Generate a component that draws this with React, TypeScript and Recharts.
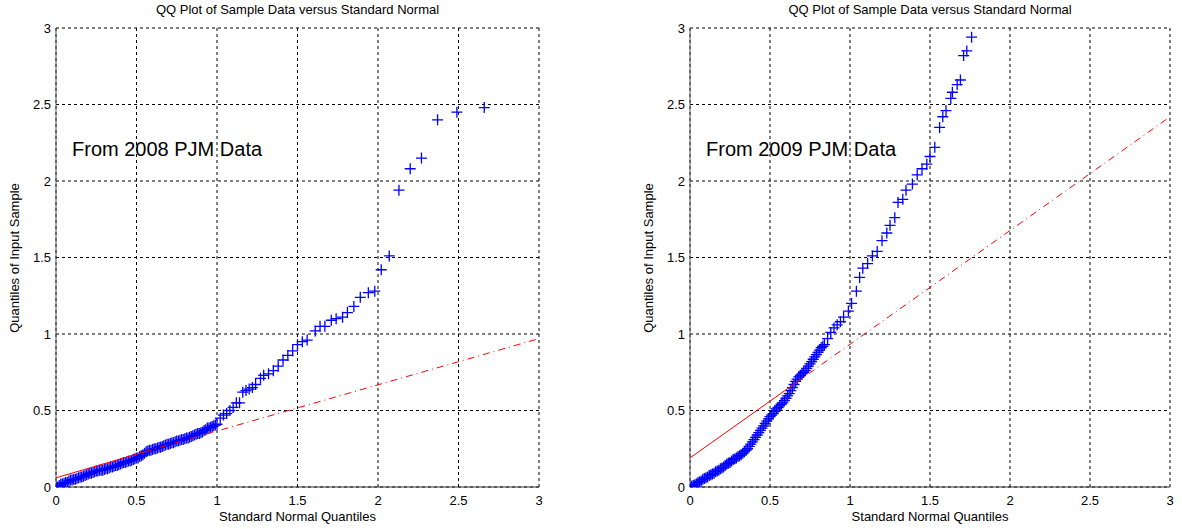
import React from "react";
import { ScatterChart, Scatter, XAxis, YAxis, CartesianGrid } from "recharts";

const TITLE = "QQ Plot of Sample Data versus Standard Normal";
const X_LABEL = "Standard Normal Quantiles";
const Y_LABEL = "Quantiles of Input Sample";

const TICKS = [0, 0.5, 1, 1.5, 2, 2.5, 3];

// [standard normal quantile, sample quantile]
const sample2008: [number, number][] = [
  [0.0, 0.0], [0.02, 0.01], [0.04, 0.02], [0.06, 0.03], [0.08, 0.04], [0.1, 0.045],
  [0.12, 0.05], [0.14, 0.06], [0.16, 0.065], [0.18, 0.075], [0.2, 0.085], [0.22, 0.09],
  [0.24, 0.1], [0.26, 0.105], [0.28, 0.11], [0.3, 0.115], [0.32, 0.12], [0.34, 0.13],
  [0.36, 0.135], [0.38, 0.14], [0.4, 0.15], [0.42, 0.16], [0.44, 0.165], [0.46, 0.17],
  [0.48, 0.18], [0.5, 0.19], [0.52, 0.2], [0.54, 0.21], [0.56, 0.23], [0.58, 0.24],
  [0.6, 0.245], [0.62, 0.25], [0.64, 0.26], [0.66, 0.265], [0.68, 0.275], [0.7, 0.28],
  [0.72, 0.29], [0.74, 0.295], [0.76, 0.3], [0.78, 0.31], [0.8, 0.315], [0.82, 0.32],
  [0.84, 0.33], [0.86, 0.34], [0.88, 0.35], [0.9, 0.355], [0.92, 0.37], [0.94, 0.385],
  [0.96, 0.39], [0.98, 0.4], [1.0, 0.41], [1.02, 0.45], [1.04, 0.47], [1.06, 0.48],
  [1.08, 0.5], [1.1, 0.52], [1.12, 0.55], [1.14, 0.55], [1.16, 0.62], [1.18, 0.63],
  [1.2, 0.64], [1.22, 0.65], [1.24, 0.67], [1.27, 0.71], [1.29, 0.73], [1.32, 0.74],
  [1.35, 0.76], [1.38, 0.79], [1.41, 0.83], [1.44, 0.86], [1.47, 0.89], [1.5, 0.93],
  [1.53, 0.95], [1.56, 0.96], [1.61, 1.02], [1.64, 1.05], [1.67, 1.05], [1.71, 1.09],
  [1.74, 1.1], [1.78, 1.11], [1.81, 1.14], [1.85, 1.18], [1.89, 1.24], [1.94, 1.27],
  [1.98, 1.28], [2.02, 1.42], [2.07, 1.51], [2.13, 1.94], [2.2, 2.08], [2.27, 2.15],
  [2.37, 2.4], [2.49, 2.45], [2.66, 2.48],
  // densely packed lower quantiles
  [0.01, 0.0], [0.03, 0.02], [0.05, 0.025], [0.07, 0.03], [0.09, 0.045], [0.11, 0.05],
  [0.13, 0.055], [0.15, 0.065], [0.17, 0.07], [0.19, 0.08], [0.21, 0.09], [0.23, 0.095],
  [0.25, 0.105], [0.27, 0.11], [0.29, 0.11], [0.31, 0.12], [0.33, 0.125], [0.35, 0.13],
  [0.37, 0.14], [0.39, 0.145], [0.41, 0.155], [0.43, 0.16], [0.45, 0.17], [0.47, 0.175],
  [0.49, 0.185], [0.51, 0.19], [0.53, 0.205], [0.55, 0.22], [0.57, 0.235], [0.59, 0.24],
  [0.61, 0.25], [0.63, 0.255], [0.65, 0.26], [0.67, 0.27], [0.69, 0.28], [0.71, 0.285],
  [0.73, 0.29], [0.75, 0.3], [0.77, 0.305], [0.79, 0.31], [0.81, 0.32], [0.83, 0.325],
  [0.85, 0.335], [0.87, 0.345], [0.89, 0.35], [0.91, 0.36], [0.93, 0.375], [0.95, 0.385],
  [0.97, 0.395], [0.99, 0.405],
];

// same for the 2009 panel
const sample2009: [number, number][] = [
  [0.0, 0.0], [0.02, 0.01], [0.04, 0.02], [0.06, 0.035], [0.08, 0.05], [0.1, 0.06],
  [0.12, 0.075], [0.14, 0.085], [0.16, 0.1], [0.18, 0.11], [0.2, 0.125], [0.22, 0.14],
  [0.24, 0.155], [0.26, 0.17], [0.28, 0.185], [0.3, 0.2], [0.32, 0.21], [0.34, 0.23],
  [0.36, 0.25], [0.38, 0.28], [0.4, 0.31], [0.42, 0.34], [0.44, 0.37], [0.46, 0.4],
  [0.48, 0.43], [0.5, 0.46], [0.52, 0.48], [0.54, 0.51], [0.56, 0.53], [0.58, 0.55],
  [0.6, 0.58], [0.62, 0.61], [0.64, 0.65], [0.66, 0.69], [0.68, 0.72], [0.7, 0.74],
  [0.72, 0.76], [0.74, 0.79], [0.76, 0.82], [0.78, 0.85], [0.8, 0.88], [0.82, 0.91],
  [0.84, 0.93], [0.86, 0.97], [0.88, 1.01], [0.9, 1.04], [0.92, 1.06], [0.94, 1.08],
  [0.96, 1.11], [0.99, 1.15], [1.01, 1.2], [1.04, 1.28], [1.06, 1.37], [1.08, 1.43],
  [1.11, 1.46], [1.14, 1.51], [1.17, 1.54], [1.2, 1.61], [1.23, 1.66], [1.25, 1.71],
  [1.28, 1.76], [1.3, 1.86], [1.33, 1.88], [1.35, 1.94], [1.39, 1.98], [1.42, 2.04],
  [1.45, 2.08], [1.48, 2.11], [1.5, 2.16], [1.53, 2.22], [1.56, 2.35], [1.58, 2.42],
  [1.6, 2.46], [1.63, 2.54], [1.64, 2.58], [1.67, 2.63], [1.69, 2.66], [1.71, 2.82],
  [1.73, 2.85], [1.76, 2.94],
  // densely packed lower quantiles
  [0.01, 0.005], [0.03, 0.015], [0.05, 0.03], [0.07, 0.04], [0.09, 0.055], [0.11, 0.065],
  [0.13, 0.08], [0.15, 0.09], [0.17, 0.105], [0.19, 0.12], [0.21, 0.13], [0.23, 0.15],
  [0.25, 0.16], [0.27, 0.18], [0.29, 0.19], [0.31, 0.205], [0.33, 0.22], [0.35, 0.24],
  [0.37, 0.265], [0.39, 0.295], [0.41, 0.325], [0.43, 0.355], [0.45, 0.385], [0.47, 0.415],
  [0.49, 0.445], [0.51, 0.47], [0.53, 0.495], [0.55, 0.52], [0.57, 0.54], [0.59, 0.565],
  [0.61, 0.595], [0.63, 0.63], [0.65, 0.67], [0.67, 0.705], [0.69, 0.73], [0.71, 0.75],
  [0.73, 0.775], [0.75, 0.805], [0.77, 0.835], [0.79, 0.865], [0.81, 0.895], [0.83, 0.92],
];

// reference lines: solid over the quartile range, dash-dot extension
const fit2008Solid: [number, number][] = [[0, 0.06], [0.55, 0.23]];
const fit2008Dash: [number, number][] = [[0.55, 0.23], [3, 0.97]];
const fit2009Solid: [number, number][] = [[0, 0.19], [0.66, 0.68]];
const fit2009Dash: [number, number][] = [[0.66, 0.68], [3, 2.42]];

const FONT = "'Liberation Sans', Arial, sans-serif";

const toXY = (arr: [number, number][]) => arr.map(([x, y]) => ({ x, y }));

function Plus(props: any) {
  const { cx, cy } = props;
  if (cx == null || cy == null) return null;
  return (
    <path
      d={`M${cx - 5.5},${cy}H${cx + 5.5}M${cx},${cy - 5.5}V${cy + 5.5}`}
      stroke="#0000ff"
      strokeWidth={1.3}
      fill="none"
    />
  );
}

const NoDot = () => <g />;

interface PanelProps {
  left: number;
  width: number;
  marginRight: number;
  points: [number, number][];
  fitSolid: [number, number][];
  fitDash: [number, number][];
  note: string;
}

function Panel({ left, width, marginRight, points, fitSolid, fitDash, note }: PanelProps) {
  const plotLeft = 56;
  const plotRight = width - marginRight;
  const center = (plotLeft + plotRight) / 2;
  return (
    <div style={{ position: "absolute", left, top: 0, width, height: 529 }}>
      <div
        style={{
          position: "absolute", left: center - 250, width: 500, top: 2, textAlign: "center",
          fontFamily: FONT, fontSize: 13, color: "#000",
        }}
      >
        {TITLE}
      </div>
      <div
        style={{
          position: "absolute", left: center - 200, width: 400, top: 509, textAlign: "center",
          fontFamily: FONT, fontSize: 13, color: "#000",
        }}
      >
        {X_LABEL}
      </div>
      <div
        style={{
          position: "absolute", left: 15 - 150, width: 300, top: 250, textAlign: "center",
          fontFamily: FONT, fontSize: 13, color: "#000", transform: "rotate(-90deg)",
          lineHeight: "16px",
        }}
      >
        {Y_LABEL}
      </div>
      <div
        style={{
          position: "absolute", left: 72, top: 138, fontFamily: FONT, fontSize: 20,
          color: "#000", whiteSpace: "nowrap", zIndex: 2,
        }}
      >
        {note}
      </div>
      <ScatterChart
        width={width}
        height={529}
        margin={{ top: 28, right: marginRight, bottom: 0, left: 0 }}
        style={{ position: "absolute", left: 0, top: 0 }}
      >
        <CartesianGrid stroke="#000" strokeDasharray="3 3" strokeWidth={1} />
        <XAxis
          type="number"
          dataKey="x"
          domain={[0, 3]}
          ticks={TICKS}
          height={42}
          tickSize={0}
          tickMargin={9}
          axisLine={{ stroke: "#333" }}
          tick={{ fontSize: 13, fill: "#000", fontFamily: FONT }}
          allowDataOverflow
        />
        <YAxis
          type="number"
          dataKey="y"
          domain={[0, 3]}
          ticks={TICKS}
          width={56}
          tickSize={0}
          tickMargin={5}
          axisLine={{ stroke: "#555" }}
          tick={{ fontSize: 13, fill: "#000", fontFamily: FONT }}
          allowDataOverflow
        />
        <Scatter data={toXY(points)} shape={Plus} isAnimationActive={false} />
        <Scatter
          data={toXY(fitSolid)}
          line={{ stroke: "#ff0000", strokeWidth: 1 }}
          shape={NoDot}
          isAnimationActive={false}
        />
        <Scatter
          data={toXY(fitDash)}
          line={{ stroke: "#ff0000", strokeWidth: 1, strokeDasharray: "7 4 1 4" }}
          shape={NoDot}
          isAnimationActive={false}
        />
      </ScatterChart>
    </div>
  );
}

export default function App() {
  return (
    <div style={{ position: "absolute", left: 0, top: 0, width: 1182, height: 529, background: "#fff" }}>
      <Panel
        left={0}
        width={560}
        marginRight={21}
        points={sample2008}
        fitSolid={fit2008Solid}
        fitDash={fit2008Dash}
        note="From 2008 PJM Data"
      />
      <Panel
        left={634}
        width={548}
        marginRight={12}
        points={sample2009}
        fitSolid={fit2009Solid}
        fitDash={fit2009Dash}
        note="From 2009 PJM Data"
      />
    </div>
  );
}
